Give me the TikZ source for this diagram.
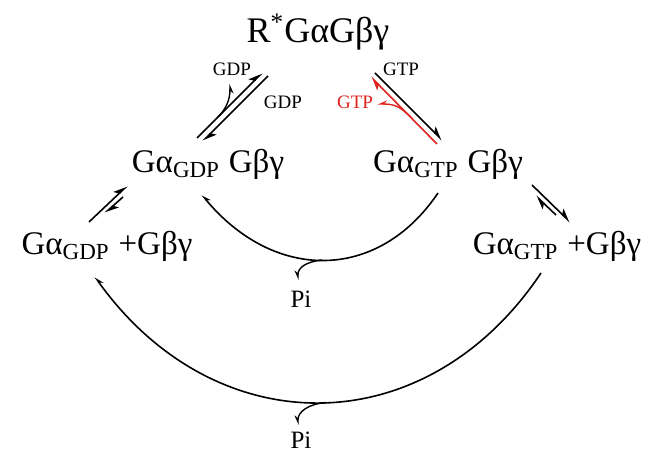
\documentclass[tikz,border=0pt]{standalone}
\usepackage{fontspec}
\setmainfont{Liberation Serif}
\usepackage{xcolor}
\usetikzlibrary{arrows.meta,positioning}
\definecolor{GTPRed}{RGB}{225,35,30}
\newcommand\gsub[1]{\raisebox{-2.5pt}{\fontsize{11.5}{12}\selectfont #1}}

\begin{document}
\begin{tikzpicture}[x=0.5pt,y=-0.5pt,
        title/.style={font=\fontsize{18}{20}\selectfont,inner sep=0pt,anchor=base},
        spec/.style={font=\fontsize{16.5}{18}\selectfont,inner sep=0pt,anchor=base},
        small/.style={font=\fontsize{9.5}{11}\selectfont,inner sep=0pt},
        pitxt/.style={font=\fontsize{12.5}{14}\selectfont,inner sep=0pt,anchor=base},
        eq/.style={-{Stealth[harpoon,length=6pt,width=5pt,inset=1.5pt]},line width=0.8pt},
        eqred/.style={eq,GTPRed},
        arc/.style={-{Stealth[harpoon,swap,length=4pt,width=3.5pt]},line width=0.8pt},
        rel/.style={-{Stealth[harpoon,swap,length=4pt,width=3.5pt]},line width=0.7pt},
        relred/.style={rel,GTPRed}
      ]
        \useasboundingbox (0,0) rectangle (650,454);
        \node[title] (top) at (318,43) {R\textsuperscript{*}GαGβγ};
        \node[spec] (cL) at (208,173) {Gα\gsub{GDP}\hspace{0.3em}Gβγ};
        \node[spec] (cR) at (448,173) {Gα\gsub{GTP}\hspace{0.3em}Gβγ};
        \node[spec] (fL) at (107,255) {Gα\gsub{GDP}\hspace{0.3em}+Gβγ};
        \node[spec] (fR) at (557,255) {Gα\gsub{GTP}\hspace{0.3em}+Gβγ};
        \node[pitxt] (pi1) at (301,308) {Pi};
        \node[pitxt] (pi2) at (301,449) {Pi};
        \node[small] (gdpOut) at (232,69) {GDP};
        \node[small] (gdpIn) at (283,102) {GDP};
        \node[small] (gtpIn) at (401,69) {GTP};
        \node[small,text=GTPRed] (gtpOut) at (355,102) {GTP};

        \coordinate (la1) at (197,138); \coordinate (la2) at (262,73);
        \coordinate (lb1) at (268,76);  \coordinate (lb2) at (203,141);
        \coordinate (lbr) at (218,117);
        \coordinate (ra1) at (375,73);  \coordinate (ra2) at (442,140);
        \coordinate (rb1) at (437,144); \coordinate (rb2) at (371,77);
        \coordinate (rbr) at (412,118.5);
        \coordinate (sa1) at (89,222);  \coordinate (sa2) at (127,186);
        \coordinate (sb1) at (123,197); \coordinate (sb2) at (105,213);
        \coordinate (da1) at (532,185); \coordinate (da2) at (570,222);
        \coordinate (db1) at (556,215); \coordinate (db2) at (536,196);
        \coordinate (m1) at (438,193);  \coordinate (m2) at (202,195);
        \coordinate (mbr) at (322,260);
        \coordinate (o1) at (541,273);  \coordinate (o2) at (95,277);
        \coordinate (obr) at (326,402.5);

        \draw[eq] (la1) -- (la2);
        \draw[eq] (lb1) -- (lb2);
        \draw[rel] (lbr) .. controls (226,109) and (230,100) .. ([xshift=-1pt,yshift=-4pt]gdpOut.south);
        \draw[eq] (ra1) -- (ra2);
        \draw[eqred] (rb1) -- (rb2);
        \draw[relred] (rbr) .. controls (400,106) and (394,104) .. ([xshift=2pt,yshift=-1pt]gtpOut.east);
        \draw[eq] (sa1) -- (sa2);
        \draw[eq] (sb1) -- (sb2);
        \draw[eq] (da1) -- (da2);
        \draw[eq] (db1) -- (db2);
        \draw[arc] (m1) .. controls (378,282) and (274,282) .. (m2);
        \draw[rel] (mbr) .. controls (305,262) and (298,268) .. ([xshift=-1.5pt,yshift=5.5pt]pi1.north);
        \draw[arc] (o1) .. controls (426,445) and (215,445) .. (o2);
        \draw[rel] (obr) .. controls (308,404) and (298,412) .. ([xshift=-1.5pt,yshift=3.5pt]pi2.north);
      \end{tikzpicture}
\end{document}
